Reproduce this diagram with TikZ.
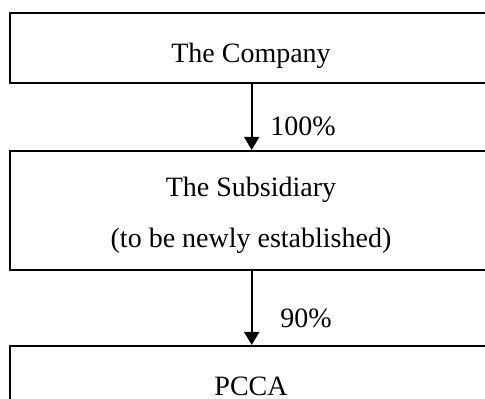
\documentclass[tikz,border=0pt]{standalone}
\usepackage{fontspec}
\setmainfont{Liberation Serif}
\usetikzlibrary{arrows.meta,positioning}

\tikzset{
	box/.style={draw, line width=0.65pt, minimum width=207.4pt, inner sep=0pt, anchor=north west},
	lbl/.style={inner sep=0pt, anchor=base, font=\fontsize{12}{14}\selectfont},
	link/.style={line width=0.85pt, -{Triangle[width=6.4pt, length=5.6pt]}}
}

\begin{document}
\begin{tikzpicture}[x=0.42857pt, y=-0.42857pt]
		\clip (0,0) rectangle (485,399);
		\useasboundingbox (0,0) rectangle (485,399);
		\node[box, minimum height=30pt] (company) at (9,12) {};
		\node[box, minimum height=51pt] (subsidiary) at (9,150) {};
		\node[box, minimum height=40pt] (pcca) at (9,345) {};
		\node[lbl] (companytxt) at (251,63) {The Company};
		\node[lbl] (subsidiarytxt) at (251,196) {The Subsidiary};
		\node[lbl] (newtxt) at (251,247) {(to be newly established)};
		\node[lbl] (pccatxt) at (251,395) {PCCA};
		\draw[link] (company.south) -- (subsidiary.north);
		\draw[link] (subsidiary.south) -- (pcca.north);
		\node[lbl, anchor=base west] (share1) at (270,136) {100\%};
		\node[lbl, anchor=base west] (share2) at (280,327) {90\%};
	\end{tikzpicture}
\end{document}
